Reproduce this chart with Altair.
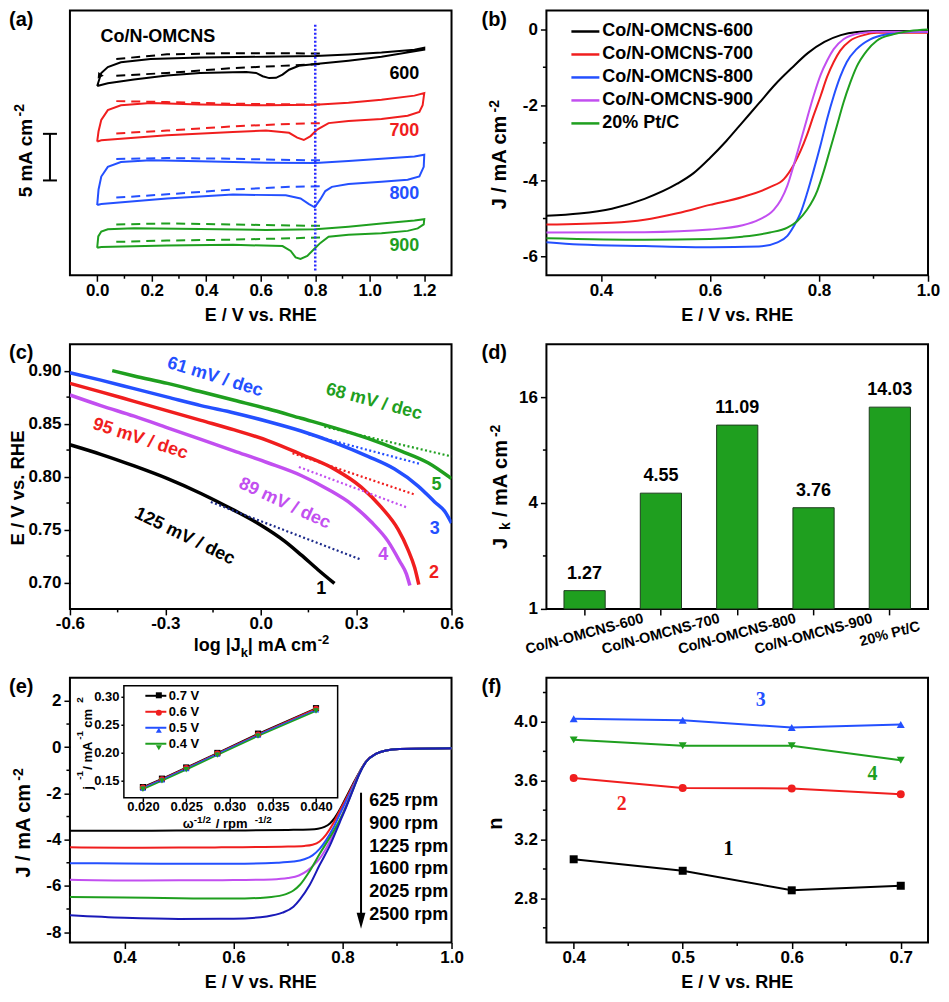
import altair as alt
import pandas as pd

FONT = "Liberation Sans"
SERIF = "Liberation Serif"
W, H = 382, 265
K, R, B, P, G = "#000000", "#f01e1e", "#2450ff", "#c24ff0", "#1f9f1f"
NAVY, FIT1C = "#1a1ab8", "#1c2a8a"
U = alt.Undefined

# ---------------- (a) cyclic voltammograms ----------------
A_XDOM = [-0.1, 1.3]
A_YDOM = [0.0, 28.4]
A_XT = [0.0, 0.2, 0.4, 0.6, 0.8, 1.0, 1.2]
A_XM = [0.1, 0.3, 0.5, 0.7, 0.9, 1.1]
CV_NAMES = ["600", "700", "800", "900"]
CV_COLORS = [K, R, B, G]
CV600_X = [0.0, 0.015, 0.039, 0.087, 0.196, 0.377, 0.619, 0.801, 0.922, 1.043, 1.164, 1.2, 1.2, 1.043, 0.922,
           0.801, 0.740, 0.704, 0.680, 0.656, 0.631, 0.607, 0.583, 0.547, 0.498, 0.377, 0.256, 0.135, 0.039, 0.0]
CV600_Y = [20.31, 21.70, 22.33, 22.85, 23.19, 23.37, 23.44, 23.51, 23.68, 23.89, 24.20, 24.41, 24.20, 23.44, 23.02,
           22.67, 22.47, 22.05, 21.53, 21.18, 21.15, 21.35, 21.70, 21.81, 21.77, 21.70, 21.42, 21.01, 20.59, 20.31]
CV700_X = [0.0, 0.005, 0.015, 0.039, 0.087, 0.196, 0.377, 0.619, 0.801, 0.922, 1.043, 1.164, 1.2, 1.194, 1.182,
           1.139, 1.043, 0.922, 0.849, 0.807, 0.783, 0.758, 0.734, 0.704, 0.619, 0.498, 0.256, 0.015, 0.0]
CV700_Y = [14.34, 15.45, 16.67, 17.71, 18.23, 18.47, 18.33, 18.23, 18.30, 18.51, 18.82, 19.27, 19.55, 18.23, 17.53,
           17.12, 16.77, 16.56, 16.32, 15.63, 14.93, 14.51, 14.76, 15.28, 15.52, 15.38, 15.03, 14.48, 14.34]
CV800_X = [0.0, 0.005, 0.015, 0.039, 0.087, 0.196, 0.377, 0.619, 0.801, 0.922, 1.043, 1.164, 1.2, 1.198, 1.182,
           1.139, 1.043, 0.922, 0.861, 0.837, 0.819, 0.798, 0.777, 0.746, 0.692, 0.498, 0.256, 0.015, 0.0]
CV800_Y = [7.53, 9.20, 10.59, 11.63, 12.15, 12.33, 12.22, 12.08, 12.05, 12.26, 12.50, 12.74, 12.92, 11.63, 10.59,
           10.24, 10.03, 9.79, 9.48, 9.03, 8.16, 7.29, 7.64, 8.23, 8.58, 8.65, 8.23, 7.64, 7.53]
CV900_X = [0.0, 0.004, 0.015, 0.039, 0.135, 0.377, 0.619, 0.801, 0.922, 1.043, 1.164, 1.2, 1.198, 1.176, 1.139,
           1.043, 0.922, 0.849, 0.819, 0.795, 0.771, 0.746, 0.728, 0.710, 0.680, 0.498, 0.256, 0.015, 0.0]
CV900_Y = [2.95, 4.17, 4.69, 4.93, 5.03, 4.97, 4.86, 4.93, 5.21, 5.56, 5.87, 6.01, 5.45, 5.03, 4.76,
           4.51, 4.34, 4.13, 3.47, 2.78, 2.08, 1.74, 1.91, 2.60, 3.13, 3.26, 3.19, 3.02, 2.95]
DASH_X = [0.07, 0.256, 0.498, 0.716, 0.819]
DASH600_UP = [23.20, 23.70, 23.83, 23.82, 23.78]
DASH600_LO = [21.40, 21.70, 22.22, 22.52, 22.67]
DASH700_UP = [18.68, 18.58, 18.40, 18.33, 18.33]
DASH700_LO = [15.21, 15.52, 15.97, 16.25, 16.32]
DASH800_UP = [12.47, 12.57, 12.50, 12.36, 12.33]
DASH800_LO = [8.33, 8.68, 9.20, 9.50, 9.55]
DASH900_UP = [5.45, 5.56, 5.45, 5.33, 5.31]
DASH900_LO = [3.58, 3.72, 3.82, 3.97, 4.06]
CV_LABEL_X = 1.182
CV_LABEL_Y = [21.6, 15.45, 8.68, 3.12]
CV_TITLE = "Co/N-OMCNS"
CV_TITLE_XY = [0.012, 25.6]
CV_ARROW_XY = [0.008, 21.35]
REF_X = 0.8
REF_Y = [0.5, 26.9]
SCALEBAR_Y = [10.17, 15.17]

# ---------------- (b) LSV ----------------
B_XDOM, B_YDOM = [0.3, 1.0], [-6.5, 0.5]
B_XT, B_XM = [0.4, 0.6, 0.8, 1.0], [0.5, 0.7, 0.9]
B_YT, B_YM = [0, -2, -4, -6], [-1, -3, -5]
B_NAMES = ["Co/N-OMCNS-600", "Co/N-OMCNS-700", "Co/N-OMCNS-800", "Co/N-OMCNS-900", "20% Pt/C"]
B_COLORS = [K, R, B, P, G]
LSV600_X = [0.30, 0.36, 0.42, 0.48, 0.54, 0.57, 0.60, 0.63, 0.66, 0.69, 0.72, 0.75, 0.78, 0.81, 0.84, 0.87, 0.91, 1.00]
LSV600_Y = [-4.93, -4.87, -4.74, -4.48, -4.08, -3.80, -3.40, -2.95, -2.45, -1.95, -1.45, -1.02, -0.62, -0.33, -0.15,
            -0.07, -0.04, -0.04]
LSV700_X = [0.30, 0.42, 0.48, 0.54, 0.60, 0.66, 0.71, 0.736, 0.754, 0.766, 0.778, 0.79, 0.803, 0.815, 0.827, 0.839,
            0.857, 0.882, 0.906, 1.00]
LSV700_Y = [-5.16, -5.11, -5.03, -4.86, -4.64, -4.43, -4.17, -3.95, -3.57, -3.22, -2.79, -2.28, -1.76, -1.25, -0.86,
            -0.56, -0.30, -0.15, -0.09, -0.09]
LSV800_X = [0.30, 0.36, 0.48, 0.60, 0.69, 0.724, 0.742, 0.754, 0.766, 0.778, 0.79, 0.803, 0.815, 0.827, 0.839, 0.851,
            0.869, 0.894, 0.924, 0.967, 1.00]
LSV800_Y = [-5.63, -5.69, -5.73, -5.76, -5.74, -5.63, -5.46, -5.20, -4.86, -4.34, -3.74, -3.05, -2.36, -1.76, -1.25,
            -0.86, -0.52, -0.26, -0.13, -0.07, -0.07]
LSV900_X = [0.30, 0.48, 0.60, 0.66, 0.69, 0.717, 0.73, 0.742, 0.754, 0.766, 0.778, 0.79, 0.803, 0.815, 0.827, 0.845,
            0.876, 0.906, 1.00]
LSV900_Y = [-5.37, -5.36, -5.29, -5.18, -5.03, -4.77, -4.51, -4.13, -3.57, -2.97, -2.36, -1.76, -1.20, -0.82, -0.52,
            -0.26, -0.10, -0.06, -0.06]
PTC_X = [0.30, 0.48, 0.60, 0.66, 0.71, 0.742, 0.76, 0.778, 0.797, 0.809, 0.821, 0.833, 0.845, 0.857, 0.869, 0.888,
         0.906, 0.936, 0.967, 1.00]
PTC_Y = [-5.52, -5.56, -5.54, -5.48, -5.37, -5.24, -5.07, -4.77, -4.26, -3.74, -3.14, -2.54, -1.93, -1.42, -0.99,
         -0.56, -0.30, -0.13, -0.04, 0.00]

# ---------------- (c) Tafel ----------------
C_XDOM, C_YDOM = [-0.6, 0.6], [0.675, 0.925]
C_XT, C_XM = [-0.6, -0.3, 0.0, 0.3, 0.6], [-0.45, -0.15, 0.15, 0.45]
C_YT, C_YM = [0.70, 0.75, 0.80, 0.85, 0.90], [0.725, 0.775, 0.825, 0.875]
C_NAMES = ["1", "2", "3", "4", "5"]
C_FITS = ["f1", "f2", "f3", "f4", "f5"]
C_COLORS = [K, R, B, P, G, FIT1C, R, B, P, G]
C1_X = [-0.6, -0.503, -0.398, -0.293, -0.188, -0.083, 0.001, 0.075, 0.127, 0.180, 0.232]
C1_Y = [0.830, 0.821, 0.810, 0.798, 0.784, 0.768, 0.754, 0.739, 0.726, 0.712, 0.699]
C2_X = [-0.6, -0.503, -0.398, -0.293, -0.188, -0.083, 0.022, 0.127, 0.232, 0.316, 0.379, 0.432, 0.463, 0.484, 0.497]
C2_Y = [0.888, 0.880, 0.871, 0.862, 0.853, 0.844, 0.834, 0.821, 0.807, 0.790, 0.771, 0.750, 0.731, 0.714, 0.698]
C3_X = [-0.6, -0.503, -0.398, -0.293, -0.188, -0.083, 0.022, 0.127, 0.232, 0.337, 0.421, 0.495, 0.547, 0.579, 0.600]
C3_Y = [0.898, 0.891, 0.883, 0.875, 0.867, 0.860, 0.852, 0.843, 0.832, 0.819, 0.807, 0.791, 0.776, 0.767, 0.756]
C4_X = [-0.6, -0.503, -0.398, -0.293, -0.188, -0.083, 0.022, 0.127, 0.211, 0.285, 0.348, 0.400, 0.437, 0.458, 0.469]
C4_Y = [0.877, 0.867, 0.857, 0.846, 0.835, 0.824, 0.813, 0.801, 0.788, 0.774, 0.757, 0.739, 0.720, 0.708, 0.697]
C5_X = [-0.467, -0.398, -0.293, -0.188, -0.083, 0.022, 0.127, 0.232, 0.337, 0.442, 0.526, 0.600]
C5_Y = [0.900, 0.895, 0.888, 0.880, 0.872, 0.864, 0.855, 0.846, 0.836, 0.824, 0.813, 0.798]
FIT1_X, FIT1_Y = [-0.157, 0.311], [0.776, 0.722]
FIT2_X, FIT2_Y = [0.10, 0.484], [0.822, 0.783]
FIT3_X, FIT3_Y = [0.15, 0.500], [0.840, 0.812]
FIT4_X, FIT4_Y = [0.12, 0.458], [0.809, 0.771]
FIT5_X, FIT5_Y = [0.20, 0.600], [0.847, 0.819]
SLOPE_TXT = ["125 mV / dec", "95 mV / dec", "61 mV / dec", "89 mV / dec", "68 mV / dec"]
SLOPE_X = [-0.239, -0.379, -0.144, 0.075, 0.356]
SLOPE_Y = [0.7434, 0.8355, 0.8938, 0.7744, 0.8705]
SLOPE_ANGLE = [26, 18, 17, 25, 15]
SLOPE_COLOR = [K, R, B, P, G]
NUM_X = [0.190, 0.545, 0.547, 0.385, 0.553]
NUM_Y = [0.694, 0.709, 0.750, 0.726, 0.792]

# ---------------- (d) kinetic current ----------------
D_CATS = ["Co/N-OMCNS-600", "Co/N-OMCNS-700", "Co/N-OMCNS-800", "Co/N-OMCNS-900", "20% Pt/C"]
D_VALS = [1.27, 4.55, 11.09, 3.76, 14.03]
D_YDOM, D_YT, D_YM = [1, 32], [1, 4, 16], [2, 8]

# ---------------- (e) RDE ----------------
E_XDOM, E_YDOM = [0.3, 1.0], [-8.45, 3.0]
E_XT, E_XM = [0.4, 0.6, 0.8, 1.0], [0.5, 0.7, 0.9]
E_YT, E_YM = [2, 0, -2, -4, -6, -8], [1, -1, -3, -5, -7]
E_NAMES = ["625", "900", "1225", "1600", "2025", "2500"]
E_COLORS = [K, R, B, P, G, NAVY]
E625_X = [0.30, 0.40, 0.50, 0.60, 0.70, 0.74, 0.755, 0.767, 0.777, 0.786, 0.795, 0.807, 0.819, 0.831, 0.843, 0.862,
          0.880, 0.904, 1.00]
E625_Y = [-3.62, -3.62, -3.60, -3.60, -3.58, -3.56, -3.53, -3.45, -3.30, -3.05, -2.70, -2.15, -1.60, -1.08, -0.62,
          -0.28, -0.14, -0.08, -0.05]
E900_X = [0.30, 0.40, 0.50, 0.60, 0.70, 0.73, 0.745, 0.758, 0.770, 0.783, 0.795, 0.807, 0.819, 0.831, 0.843, 0.862,
          0.880, 0.904, 1.00]
E900_Y = [-4.33, -4.35, -4.34, -4.33, -4.30, -4.27, -4.22, -4.08, -3.78, -3.30, -2.75, -2.22, -1.65, -1.10, -0.63,
          -0.28, -0.14, -0.08, -0.05]
E1225_X = [0.30, 0.40, 0.50, 0.60, 0.68, 0.71, 0.73, 0.745, 0.758, 0.770, 0.783, 0.795, 0.807, 0.819, 0.831, 0.843,
           0.862, 0.880, 0.904, 1.00]
E1225_Y = [-5.02, -5.03, -5.04, -5.04, -5.00, -4.95, -4.85, -4.68, -4.40, -4.02, -3.50, -2.90, -2.32, -1.72, -1.12,
           -0.64, -0.28, -0.14, -0.08, -0.05]
E1600_X = [0.30, 0.40, 0.50, 0.60, 0.67, 0.70, 0.72, 0.735, 0.748, 0.758, 0.770, 0.783, 0.795, 0.807, 0.819, 0.831,
           0.843, 0.862, 0.880, 0.904, 1.00]
E1600_Y = [-5.74, -5.77, -5.76, -5.75, -5.72, -5.66, -5.55, -5.35, -5.08, -4.82, -4.38, -3.80, -3.17, -2.50, -1.80,
           -1.14, -0.64, -0.28, -0.14, -0.08, -0.05]
E2025_X = [0.30, 0.40, 0.50, 0.60, 0.66, 0.69, 0.71, 0.722, 0.74, 0.758, 0.777, 0.795, 0.807, 0.819, 0.831, 0.843,
           0.862, 0.880, 0.904, 1.00]
E2025_Y = [-6.48, -6.50, -6.54, -6.55, -6.50, -6.40, -6.20, -5.95, -5.35, -4.62, -3.90, -3.15, -2.55, -1.85, -1.15,
           -0.64, -0.28, -0.14, -0.08, -0.05]
E2500_X = [0.30, 0.40, 0.50, 0.60, 0.661, 0.69, 0.71, 0.722, 0.74, 0.758, 0.777, 0.795, 0.807, 0.819, 0.831, 0.843,
           0.862, 0.880, 0.904, 1.00]
E2500_Y = [-7.27, -7.38, -7.43, -7.42, -7.32, -7.16, -6.90, -6.58, -5.95, -5.10, -4.25, -3.25, -2.58, -1.87, -1.16,
           -0.64, -0.28, -0.14, -0.08, -0.05]
E_ARROW_X = 0.834
E_ARROW_Y = [-1.97, -7.51]
E_RPM_X = 0.849
E_RPM_Y = [-2.32, -3.31, -4.30, -5.28, -6.27, -7.25]
# inset (K-L)
INSET_NAMES = ["0.7 V", "0.6 V", "0.5 V", "0.4 V"]
INSET_COLORS = [K, R, B, G]
INSET_SHAPES = ["square", "circle", "triangle-up", "triangle-down"]
INSET_W = [0.020, 0.0222, 0.025, 0.0286, 0.0333, 0.040]
INSET_07 = [0.139, 0.154, 0.174, 0.200, 0.2345, 0.280]
INSET_06 = [0.138, 0.153, 0.173, 0.199, 0.233, 0.279]
INSET_05 = [0.137, 0.152, 0.172, 0.198, 0.232, 0.277]
INSET_04 = [0.135, 0.150, 0.170, 0.196, 0.230, 0.275]
INSET_XDOM, INSET_YDOM = [0.0178, 0.0425], [0.12, 0.32]
INSET_XT, INSET_YT = [0.020, 0.025, 0.030, 0.035, 0.040], [0.15, 0.20, 0.25, 0.30]

# ---------------- (f) electron transfer number ----------------
F_XDOM, F_YDOM = [0.375, 0.725], [2.5, 4.3]
F_XT, F_XM = [0.4, 0.5, 0.6, 0.7], [0.45, 0.55, 0.65]
F_YT, F_YM = [2.8, 3.2, 3.6, 4.0], [2.6, 3.0, 3.4, 3.8, 4.2]
F_NAMES = ["1", "2", "3", "4"]
F_COLORS = [K, R, B, G]
F_SHAPES = ["square", "circle", "triangle-up", "triangle-down"]
F_X = [0.4, 0.5, 0.6, 0.7]
F1 = [3.066, 2.988, 2.855, 2.886]
F2 = [3.619, 3.551, 3.548, 3.509]
F3 = [4.022, 4.011, 3.962, 3.982]
F4 = [3.878, 3.838, 3.838, 3.739]
F_LABEL_X = [0.542, 0.444, 0.5716, 0.674]
F_LABEL_Y = [3.137, 3.44, 4.148, 3.646]

MINUS_FIX = "replace(datum.label, '\u2212', '-')"


# ======================= helpers =======================
def sc(dom, **kw):
    return alt.Scale(domain=dom, nice=False, zero=False, **kw)


def long_df(names, xs_list, ys_list):
    rows = []
    for n, xs, ys in zip(names, xs_list, ys_list):
        for i, (x, y) in enumerate(zip(xs, ys)):
            rows.append({"s": n, "x": x, "y": y, "i": i})
    return pd.DataFrame(rows)


def ptext(s, x, y, size=18, color=K, angle=0, align="left", baseline="alphabetic", font=FONT):
    return alt.Chart(pd.DataFrame({"t": [s]})).mark_text(
        align=align, baseline=baseline, angle=angle, font=font, fontSize=size,
        fontWeight="bold", color=color).encode(text="t:N", x=alt.value(x), y=alt.value(y))


def dtext(xs, ys, labels, xsc, ysc, size=18, color=K, align="center", baseline="middle", angle=0, font=FONT,
          yaxis=U):
    df = pd.DataFrame({"x": xs, "y": ys, "t": labels})
    return alt.Chart(df).mark_text(
        align=align, baseline=baseline, angle=angle, font=font, fontSize=size,
        fontWeight="bold", color=color).encode(
        x=alt.X("x:Q", scale=xsc), y=alt.Y("y:Q", scale=ysc, axis=yaxis), text="t:N")


def xminor(vals, xsc, n=3.5):
    return alt.Chart(pd.DataFrame({"x": vals})).mark_rule(color=K, strokeWidth=1.5).encode(
        x=alt.X("x:Q", scale=xsc), y=alt.value(H), y2=alt.value(H + n))


def yminor(vals, ysc, n=3.5):
    return alt.Chart(pd.DataFrame({"y": vals})).mark_rule(color=K, strokeWidth=1.5).encode(
        y=alt.Y("y:Q", scale=ysc), x=alt.value(0), x2=alt.value(-n))


def ax(vals, fmt, **kw):
    return alt.Axis(values=vals, format=fmt, title=None, labelExpr=MINUS_FIX, **kw)


def tag(s, x=-61):
    return ptext(s, x, 15, size=20)


def xtitle(s="E / V vs. RHE", dy=46):
    return ptext(s, W / 2, H + dy, size=18, align="center")


# ======================= (a) =======================
axs, ays = sc(A_XDOM), sc(A_YDOM)
cv_color = alt.Scale(domain=CV_NAMES, range=CV_COLORS)
cv_df = long_df(CV_NAMES, [CV600_X, CV700_X, CV800_X, CV900_X], [CV600_Y, CV700_Y, CV800_Y, CV900_Y])
a_solid = alt.Chart(cv_df).mark_line(strokeWidth=2).encode(
    x=alt.X("x:Q", scale=axs, axis=ax(A_XT, ".1f")),
    y=alt.Y("y:Q", scale=ays, axis=None),
    color=alt.Color("s:N", scale=cv_color, legend=None),
    order="i:Q")
dash_rows = []
for n, up, lo in zip(CV_NAMES, [DASH600_UP, DASH700_UP, DASH800_UP, DASH900_UP],
                     [DASH600_LO, DASH700_LO, DASH800_LO, DASH900_LO]):
    for g, ys in (("u", up), ("l", lo)):
        for i, (x, y) in enumerate(zip(DASH_X, ys)):
            dash_rows.append({"s": n, "g": n + g, "x": x, "y": y, "i": i})
a_dash = alt.Chart(pd.DataFrame(dash_rows)).mark_line(strokeWidth=2, strokeDash=[9, 6]).encode(
    x=alt.X("x:Q", scale=axs), y=alt.Y("y:Q", scale=ays, axis=None),
    color=alt.Color("s:N", scale=cv_color, legend=None), detail="g:N", order="i:Q")
a_ref = alt.Chart(pd.DataFrame({"x": [REF_X], "y": [REF_Y[0]], "y2": [REF_Y[1]]})).mark_rule(
    color="#2a2aff", strokeWidth=2.5, strokeDash=[2, 2]).encode(
    x=alt.X("x:Q", scale=axs), y=alt.Y("y:Q", scale=ays, axis=None), y2="y2:Q")
a_arrow = alt.Chart(pd.DataFrame({"x": [CV_ARROW_XY[0]], "y": [CV_ARROW_XY[1]]})).mark_point(
    shape="triangle-down", angle=35, filled=True, size=45, color=K, opacity=1).encode(
    x=alt.X("x:Q", scale=axs), y=alt.Y("y:Q", scale=ays, axis=None))
a_labels = [dtext([CV_LABEL_X], [yv], [n], axs, ays, color=c, align="right", yaxis=None)
            for n, yv, c in zip(CV_NAMES, CV_LABEL_Y, CV_COLORS)]
a_title = dtext([CV_TITLE_XY[0]], [CV_TITLE_XY[1]], [CV_TITLE], axs, ays, align="left", yaxis=None)
a_bar = alt.Chart(pd.DataFrame({"y": [SCALEBAR_Y[0]], "y2": [SCALEBAR_Y[1]]})).mark_rule(
    color=K, strokeWidth=2).encode(x=alt.value(-20), y=alt.Y("y:Q", scale=ays, axis=None), y2="y2:Q")
a_caps = alt.Chart(pd.DataFrame({"y": SCALEBAR_Y})).mark_rule(color=K, strokeWidth=2).encode(
    x=alt.value(-27), x2=alt.value(-13), y=alt.Y("y:Q", scale=ays, axis=None))
pa = alt.layer(
    a_solid, a_dash, a_ref, a_arrow, *a_labels, a_title, a_bar, a_caps, xminor(A_XM, axs),
    ptext("5 mA cm", -44, 187, size=19, angle=270, baseline="middle"),
    ptext("-2", -50, 106, size=14, angle=270, baseline="middle"),
    xtitle(), tag("(a)"),
).properties(width=W, height=H)

# ======================= (b) =======================
bxs, bys = sc(B_XDOM), sc(B_YDOM)
b_df = long_df(B_NAMES, [LSV600_X, LSV700_X, LSV800_X, LSV900_X, PTC_X],
               [LSV600_Y, LSV700_Y, LSV800_Y, LSV900_Y, PTC_Y])
b_lines = alt.Chart(b_df).mark_line(strokeWidth=2, interpolate="monotone").encode(
    x=alt.X("x:Q", scale=bxs, axis=ax(B_XT, ".1f")),
    y=alt.Y("y:Q", scale=bys, axis=ax(B_YT, "d")),
    color=alt.Color("s:N", scale=alt.Scale(domain=B_NAMES, range=B_COLORS), legend=alt.Legend(
        orient="none", legendX=30, legendY=12, title=None, symbolType="M-2,0L2,0", symbolSize=196,
        symbolStrokeWidth=2.5, labelFont=FONT, labelFontSize=18, labelFontWeight="bold", labelColor=K,
        labelOffset=8, rowPadding=5, padding=0, labelLimit=400)))
pb = alt.layer(
    b_lines, xminor(B_XM, bxs), yminor(B_YM, bys),
    ptext("J / mA cm", -46, 199, size=20, angle=270, baseline="middle"),
    ptext("-2", -51, 102, size=14, angle=270, baseline="middle"),
    xtitle(), tag("(b)", -65),
).properties(width=W, height=H)

# ======================= (c) =======================
cxs, cys = sc(C_XDOM), sc(C_YDOM)
c_color = alt.Scale(domain=C_NAMES + C_FITS, range=C_COLORS)
c_curves = alt.Chart(long_df(C_NAMES, [C1_X, C2_X, C3_X, C4_X, C5_X], [C1_Y, C2_Y, C3_Y, C4_Y, C5_Y])).mark_line(
    strokeWidth=3.5, interpolate="monotone", clip=True).encode(
    x=alt.X("x:Q", scale=cxs, axis=ax(C_XT, ".1f")),
    y=alt.Y("y:Q", scale=cys, axis=ax(C_YT, ".2f")),
    color=alt.Color("s:N", scale=c_color, legend=None))
c_fit = alt.Chart(long_df(C_FITS, [FIT1_X, FIT2_X, FIT3_X, FIT4_X, FIT5_X],
                          [FIT1_Y, FIT2_Y, FIT3_Y, FIT4_Y, FIT5_Y])).mark_line(
    strokeWidth=2.2, strokeDash=[2, 2.5], clip=True).encode(
    x=alt.X("x:Q", scale=cxs), y=alt.Y("y:Q", scale=cys),
    color=alt.Color("s:N", scale=c_color, legend=None))
c_slopes = [dtext([x], [y], [t], cxs, cys, color=c, angle=a)
            for t, x, y, a, c in zip(SLOPE_TXT, SLOPE_X, SLOPE_Y, SLOPE_ANGLE, SLOPE_COLOR)]
c_nums = [dtext([x], [y], [n], cxs, cys, color=c)
          for n, x, y, c in zip(C_NAMES, NUM_X, NUM_Y, SLOPE_COLOR)]
pc = alt.layer(
    c_curves, c_fit, *c_slopes, *c_nums, xminor(C_XM, cxs), yminor(C_YM, cys),
    ptext("E / V vs. RHE", -52, 144, size=18.5, angle=270, align="center", baseline="middle"),
    ptext("log |J", 124, H + 42, size=18), ptext("k", 171, H + 48, size=13),
    ptext("| mA cm", 178, H + 42, size=18), ptext("-2", 248, H + 35, size=13),
    tag("(c)"),
).properties(width=W, height=H)

# ======================= (d) =======================
dxs = alt.Scale(domain=D_CATS, paddingInner=0.46, paddingOuter=0.23)
dys = alt.Scale(type="log", base=2, domain=D_YDOM, nice=False)
d_df = pd.DataFrame({"c": D_CATS, "v": D_VALS})
d_bars = alt.Chart(d_df).mark_bar(color=G, stroke="#1d3d1d", strokeWidth=1).encode(
    x=alt.X("c:N", scale=dxs, sort=D_CATS, axis=alt.Axis(
        title=None, labelAngle=345, labelAlign="center", labelBaseline="middle", labelPadding=19,
        labelFontSize=14.5, labelLimit=0)),
    y=alt.Y("v:Q", scale=dys, axis=ax(D_YT, "d")),
    y2=alt.datum(1))
d_text = alt.Chart(d_df).mark_text(dy=-12, baseline="alphabetic", font=FONT, fontSize=18,
                                   fontWeight="bold", color=K).encode(
    x=alt.X("c:N", scale=dxs, sort=D_CATS),
    y=alt.Y("v:Q", scale=dys), text=alt.Text("v:Q", format=".2f"))
pdd = alt.layer(
    d_bars, d_text, yminor(D_YM, dys),
    ptext("J", -45, 205, size=20, angle=270, baseline="middle"),
    ptext("k", -40, 186, size=14, angle=270, baseline="middle"),
    ptext("/ mA cm", -45, 173, size=20, angle=270, baseline="middle"),
    ptext("-2", -50, 93, size=14, angle=270, baseline="middle"),
    tag("(d)", -65),
).properties(width=W, height=H)

# ======================= (e) =======================
exs, eys = sc(E_XDOM), sc(E_YDOM)
e_df = long_df(E_NAMES, [E625_X, E900_X, E1225_X, E1600_X, E2025_X, E2500_X],
               [E625_Y, E900_Y, E1225_Y, E1600_Y, E2025_Y, E2500_Y])
e_lines = alt.Chart(e_df).mark_line(strokeWidth=2, interpolate="monotone").encode(
    x=alt.X("x:Q", scale=exs, axis=ax(E_XT, ".1f", orient="bottom")),
    y=alt.Y("y:Q", scale=eys, axis=ax(E_YT, "d", orient="left")),
    color=alt.Color("s:N", scale=alt.Scale(domain=E_NAMES, range=E_COLORS), legend=None))
e_arrow = alt.Chart(pd.DataFrame({"x": [E_ARROW_X], "y": [E_ARROW_Y[0]], "y2": [E_ARROW_Y[1]]})).mark_rule(
    color=K, strokeWidth=2).encode(
    x=alt.X("x:Q", scale=exs), y=alt.Y("y:Q", scale=eys), y2="y2:Q")
e_head = alt.Chart(pd.DataFrame({"x": [E_ARROW_X], "y": [E_ARROW_Y[1]]})).mark_point(
    shape="M-0.55,-1L0.55,-1L0,1Z", filled=True, size=256, color=K, opacity=1).encode(
    x=alt.X("x:Q", scale=exs), y=alt.Y("y:Q", scale=eys))
e_rpm = dtext([E_RPM_X] * len(E_NAMES), E_RPM_Y, [n + " rpm" for n in E_NAMES], exs, eys, align="left")
e_main = alt.layer(
    e_lines, e_arrow, e_head, e_rpm, xminor(E_XM, exs), yminor(E_YM, eys),
    ptext("J / mA cm", -46, 200, size=20, angle=270, baseline="middle"),
    ptext("-2", -51, 103, size=14, angle=270, baseline="middle"),
    xtitle(), tag("(e)"),
)

ixs = alt.Scale(domain=INSET_XDOM, range=[54, 268], nice=False, zero=False)
iys = alt.Scale(domain=INSET_YDOM, range=[120, 8], nice=False, zero=False)
ins_df = long_df(INSET_NAMES, [INSET_W] * 4, [INSET_07, INSET_06, INSET_05, INSET_04])
ins_df["m"] = ins_df["s"] + " "
ins_rect = alt.Chart(pd.DataFrame({"x": [INSET_XDOM[0]], "x2": [INSET_XDOM[1]],
                                   "y": [INSET_YDOM[0]], "y2": [INSET_YDOM[1]]})).mark_rect(
    fill="white", stroke=K, strokeWidth=1.5).encode(
    x=alt.X("x:Q", scale=ixs), x2="x2:Q", y=alt.Y("y:Q", scale=iys), y2="y2:Q")
ins_lines = alt.Chart(ins_df).mark_line(strokeWidth=1.5).encode(
    x=alt.X("x:Q", scale=ixs, axis=ax(INSET_XT, ".3f", orient="bottom", offset=-(H - 120), labelFontSize=13,
                                        tickSize=4, labelPadding=9)),
    y=alt.Y("y:Q", scale=iys, axis=ax(INSET_YT, ".2f", orient="left", offset=-54, labelFontSize=13,
                                        tickSize=3, labelPadding=2)),
    color=alt.Color("s:N", scale=alt.Scale(domain=INSET_NAMES, range=INSET_COLORS), legend=alt.Legend(
        orient="none", legendX=78, legendY=10, title=None, symbolType="M-1.5,0L1.5,0", symbolSize=196,
        symbolStrokeWidth=2, labelFont=FONT, labelFontSize=13, labelFontWeight="bold", labelColor=K,
        labelOffset=5, rowPadding=1, padding=0)))
mk_names = [n + " " for n in INSET_NAMES]
mk_legend = alt.Legend(orient="none", legendX=82.5, legendY=11, title=None, symbolSize=36,
                       labelFont=FONT, labelFontSize=13, labelFontWeight="bold", labelExpr="' '",
                       rowPadding=3.5, padding=0)
ins_pts = alt.Chart(ins_df).mark_point(filled=True, size=38, opacity=1).encode(
    x=alt.X("x:Q", scale=ixs), y=alt.Y("y:Q", scale=iys),
    fill=alt.Fill("m:N", scale=alt.Scale(domain=mk_names, range=INSET_COLORS), legend=mk_legend),
    shape=alt.Shape("m:N", scale=alt.Scale(domain=mk_names, range=INSET_SHAPES), legend=mk_legend))
e_inset = alt.layer(
    ins_rect, ins_lines, ins_pts,
    ptext("j", 17.7, 112, size=13, angle=270, baseline="middle"),
    ptext("-1", 10.5, 102, size=10, angle=270, baseline="middle"),
    ptext("/ mA", 17.7, 92, size=13, angle=270, baseline="middle"),
    ptext("-1", 10.5, 62, size=10, angle=270, baseline="middle"),
    ptext("cm", 17.7, 50, size=13, angle=270, baseline="middle"),
    ptext("2", 10.5, 25, size=10, angle=270, baseline="middle"),
    ptext("\u03c9", 113, 150, size=13), ptext("-1/2", 124, 145, size=10),
    ptext("/ rpm", 146, 150, size=13), ptext("-1/2", 185, 145, size=10),
)
pe = alt.layer(e_main, e_inset).resolve_scale(
    x="independent", y="independent", color="independent").resolve_axis(
    x="independent", y="independent").properties(width=W, height=H)

# ======================= (f) =======================
fxs, fys = sc(F_XDOM), sc(F_YDOM)
f_df = long_df(F_NAMES, [F_X] * 4, [F1, F2, F3, F4])
f_color = alt.Scale(domain=F_NAMES, range=F_COLORS)
f_lines = alt.Chart(f_df).mark_line(strokeWidth=2).encode(
    x=alt.X("x:Q", scale=fxs, axis=ax(F_XT, ".1f")),
    y=alt.Y("y:Q", scale=fys, axis=ax(F_YT, ".1f")),
    color=alt.Color("s:N", scale=f_color, legend=None))
f_pts = alt.Chart(f_df).mark_point(filled=True, size=64, opacity=1).encode(
    x=alt.X("x:Q", scale=fxs), y=alt.Y("y:Q", scale=fys),
    color=alt.Color("s:N", scale=f_color, legend=None),
    shape=alt.Shape("s:N", scale=alt.Scale(domain=F_NAMES, range=F_SHAPES), legend=None))
f_labels = [dtext([x], [y], [n], fxs, fys, size=20, color=c, font=SERIF)
            for n, x, y, c in zip(F_NAMES, F_LABEL_X, F_LABEL_Y, F_COLORS)]
pf = alt.layer(
    f_lines, f_pts, *f_labels, xminor(F_XM, fxs), yminor(F_YM, fys),
    ptext("n", -50, 146, size=20, angle=270, align="center", baseline="middle"),
    xtitle(), tag("(f)", -65),
).properties(width=W, height=H)

# ======================= assemble =======================
chart = alt.concat(
    pa, pb, pc, pdd, pe, pf, columns=2, spacing={"row": 69, "column": 95}, bounds="flush"
).resolve_scale(
    color="independent", fill="independent", shape="independent"
).configure_view(
    stroke=K, strokeWidth=2
).configure_axis(
    domain=False, grid=False, ticks=True, tickColor=K, tickWidth=1.5, tickSize=6,
    labelFont=FONT, labelFontSize=17, labelFontWeight="bold", labelColor=K,
    labelFlush=False, labelOverlap=False
).configure_axisX(
    labelBaseline="alphabetic", labelPadding=14
).configure_axisY(
    labelPadding=3
).properties(padding=0, background="white")

chart.save("out.html", embed_options={"renderer": "svg", "actions": False})
